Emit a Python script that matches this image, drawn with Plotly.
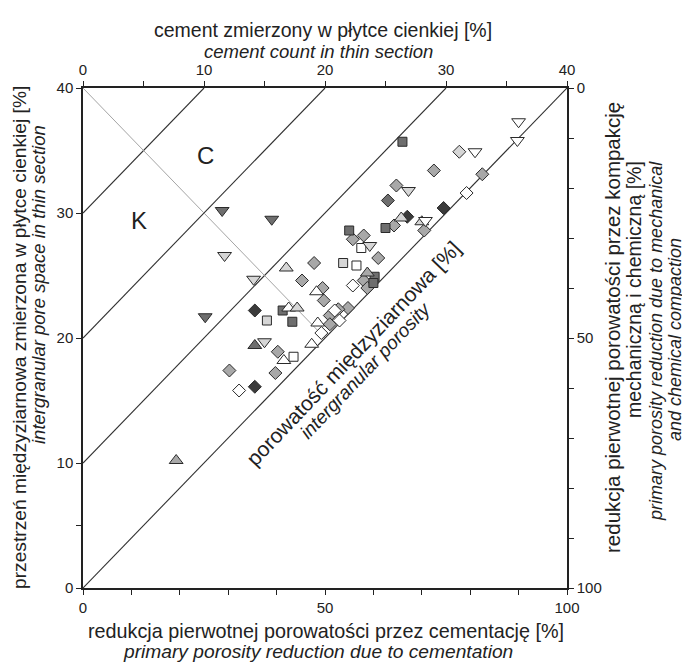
import plotly.graph_objects as go

# ---------------- data (cement count [%], intergranular pore space [%]) ----------------
tri_down_mid_cement = [11.5, 15.6, 10.1]
tri_down_mid_pore = [30.2, 29.5, 21.7]
tri_down_light_cement = [11.7, 14.1, 15.0, 23.7, 26.9]
tri_down_light_pore = [26.6, 24.7, 19.7, 27.4, 31.8]
tri_down_white_cement = [32.4, 36.0, 35.9, 28.3]
tri_down_white_pore = [34.9, 37.3, 35.8, 29.4]

tri_up_gray_cement = [7.7, 23.5]
tri_up_gray_pore = [10.2, 25.2]
tri_up_mid_cement = [14.2]
tri_up_mid_pore = [19.4]
tri_up_light_cement = [16.8, 17.7, 26.3, 28.0]
tri_up_light_pore = [25.6, 22.4, 29.6, 29.3]
tri_up_white_cement = [17.0, 19.3, 19.4, 18.9, 16.6]
tri_up_white_pore = [22.4, 23.7, 21.2, 19.5, 18.2]

sq_mid_cement = [16.5, 17.3, 26.4, 25.0, 22.0, 24.1, 24.0]
sq_mid_pore = [22.2, 21.3, 35.7, 28.8, 28.6, 24.9, 24.4]
sq_light_cement = [15.2, 21.5]
sq_light_pore = [21.4, 26.0]
sq_white_cement = [17.4, 23.0, 22.6]
sq_white_pore = [18.5, 27.2, 25.8]

dia_dark_cement = [14.2, 14.2, 29.8, 26.8]
dia_dark_pore = [22.2, 16.1, 30.4, 29.7]
dia_mid_cement = [25.2]
dia_mid_pore = [31.0]
dia_gray_cement = [19.1, 18.1, 19.8, 19.9, 20.4, 20.4, 16.1, 12.1, 15.9, 23.2, 22.3,
                   24.4, 23.2, 23.5, 21.9, 21.1, 29.0, 33.0, 25.9, 25.7, 28.2]
dia_gray_pore = [26.0, 24.6, 24.0, 23.0, 21.8, 21.1, 18.9, 17.4, 17.2, 28.2, 27.9,
                 26.4, 24.6, 24.0, 22.4, 22.3, 33.4, 33.1, 32.2, 29.0, 28.6]
dia_light_cement = [31.1]
dia_light_pore = [34.9]
dia_white_cement = [20.8, 19.7, 12.9, 22.3, 21.2, 31.7]
dia_white_pore = [22.2, 20.4, 15.8, 24.2, 21.4, 31.6]

# constant-porosity reference lines: start on left axis at these pore values
iso_line_pore_start = [30, 20, 10, 0]
# thin divider (C / K fields)
divider_cement = [0, 20]
divider_pore = [40, 20]

bottom_ticks = [0, 10, 20, 30, 40, 50, 60, 70, 80, 90, 100]
bottom_labels = ["0", "", "", "", "", "50", "", "", "", "", "100"]
top_ticks = [0, 5, 10, 15, 20, 25, 30, 35, 40]
top_labels = ["0", "", "10", "", "20", "", "30", "", "40"]
left_ticks = [0, 5, 10, 20, 30, 40]
left_labels = ["0", "", "10", "20", "30", "40"]
right_ticks = [0, 10, 20, 30, 40, 50, 60, 70, 80, 90, 100]
right_labels = ["0", "", "", "", "", "50", "", "", "", "", "100"]

# ---------------- styling ----------------
FONT = "Liberation Sans, Arial, sans-serif"
TXT = "#222222"
C_DARK, C_MID, C_GRAY, C_LIGHT, C_WHITE = "#3b3b3b", "#6e6e6e", "#a8a8a8", "#d6d6d6", "#ffffff"
OUT = "#2a2a2a"

OFF = 8  # page body margin
W, H = 690, 663
ML, MT = 83 - OFF, 88 - OFF
PW, PH = 484, 500
MR = W - ML - PW
MB = H - MT - PH


def px(x, y):
    """screen pixel -> paper coords"""
    fx, fy = x - OFF, y - OFF
    return (fx - ML) / PW, (MT + PH - fy) / PH


fig = go.Figure()

for p0 in iso_line_pore_start:
    fig.add_trace(go.Scatter(x=[0, 40 - p0], y=[p0, 40], mode="lines",
                             line=dict(color="#303030", width=1.1),
                             xaxis="x2", yaxis="y", showlegend=False, hoverinfo="skip"))
fig.add_trace(go.Scatter(x=divider_cement, y=divider_pore, mode="lines",
                         line=dict(color="#9a9a9a", width=0.9),
                         xaxis="x2", yaxis="y", showlegend=False, hoverinfo="skip"))

fig.add_trace(go.Scatter(x=[None], y=[None], xaxis="x", yaxis="y2", showlegend=False))


def add(xs, ys, symbol, color, size):
    fig.add_trace(go.Scatter(x=xs, y=ys, mode="markers", xaxis="x2", yaxis="y",
                             marker=dict(symbol=symbol, color=color, size=size,
                                         line=dict(color=OUT, width=1)),
                             showlegend=False))


add(dia_gray_cement, dia_gray_pore, "diamond", C_GRAY, 10)
add(dia_light_cement, dia_light_pore, "diamond", C_LIGHT, 10)
add(dia_white_cement, dia_white_pore, "diamond", C_WHITE, 10)
add(dia_mid_cement, dia_mid_pore, "diamond", C_MID, 10)
add(dia_dark_cement, dia_dark_pore, "diamond", C_DARK, 10)
add(sq_mid_cement, sq_mid_pore, "square", C_MID, 9)
add(sq_light_cement, sq_light_pore, "square", C_LIGHT, 9)
add(sq_white_cement, sq_white_pore, "square", C_WHITE, 9)
add(tri_up_white_cement, tri_up_white_pore, "triangle-up", C_WHITE, 12)
add(tri_up_light_cement, tri_up_light_pore, "triangle-up", C_LIGHT, 12)
add(tri_up_gray_cement, tri_up_gray_pore, "triangle-up", C_GRAY, 12)
add(tri_up_mid_cement, tri_up_mid_pore, "triangle-up", C_MID, 12)
add(tri_down_white_cement, tri_down_white_pore, "triangle-down", C_WHITE, 12)
add(tri_down_light_cement, tri_down_light_pore, "triangle-down", C_LIGHT, 12)
add(tri_down_mid_cement, tri_down_mid_pore, "triangle-down", C_MID, 12)

axis_common = dict(showgrid=False, zeroline=False, showline=True, linecolor="#222222",
                   linewidth=1.5, ticks="outside", ticklen=5, tickwidth=1.2,
                   tickcolor="#222222", tickfont=dict(family=FONT, size=15, color=TXT),
                   tickmode="array")

fig.update_layout(
    width=W, height=H, margin=dict(l=ML, r=MR, t=MT, b=MB),
    paper_bgcolor="white", plot_bgcolor="white", showlegend=False,
    xaxis=dict(range=[0, 100], tickvals=bottom_ticks, ticktext=bottom_labels,
               side="bottom", anchor="y", **axis_common),
    xaxis2=dict(range=[0, 40], tickvals=top_ticks, ticktext=top_labels,
                side="top", overlaying="x", anchor="y", **axis_common),
    yaxis=dict(range=[0, 40], tickvals=left_ticks, ticktext=left_labels,
               side="left", anchor="x", **axis_common),
    yaxis2=dict(range=[100, 0], tickvals=right_ticks, ticktext=right_labels,
                side="right", overlaying="y", anchor="x", **axis_common),
)

ann = []


def text(x, y, s, size=19.5, italic=False, angle=0):
    ax, ay = px(x, y)
    label = f"<i>{s}</i>" if italic else s
    ann.append(dict(x=ax, y=ay, xref="paper", yref="paper", text=label, showarrow=False,
                    textangle=angle, xanchor="center", yanchor="middle",
                    font=dict(family=FONT, size=size, color=TXT)))


text(323, 30, "cement zmierzony w płytce cienkiej [%]")
text(318, 52, "cement count in thin section", 18.5, True)
text(326, 631, "redukcja pierwotnej porowatości przez cementację [%]", 19.8)
text(318, 651, "primary porosity reduction due to cementation", 19.2, True)
text(19, 338, "przestrzeń międzyziarnowa zmierzona w płytce cienkiej [%]", 19.2, angle=-90)
text(38, 285, "intergranular pore space in thin section", 18.5, True, angle=-90)
text(612, 328, "redukcja pierwotnej porowatości przez kompakcję", 20.5, angle=-90)
text(634, 290, "mechaniczną i chemiczną [%]", angle=-90)
text(656, 341, "primary porosity reduction due to mechanical", 18, True, angle=-90)
text(675, 340, "and chemical compaction", 18, True, angle=-90)
text(353, 353, "porowatość międzyziarnowa [%]", 21, angle=-46.5)
text(365, 370, "intergranular porosity", 19, True, angle=-46.5)

for lbl, cx, cy in [("C", 10.1, 34.6), ("K", 4.6, 29.4)]:
    ann.append(dict(x=cx, y=cy, xref="x2", yref="y", text=lbl, showarrow=False,
                    font=dict(family=FONT, size=24, color=TXT)))

fig.update_layout(annotations=ann)
fig.write_html("out.html")
